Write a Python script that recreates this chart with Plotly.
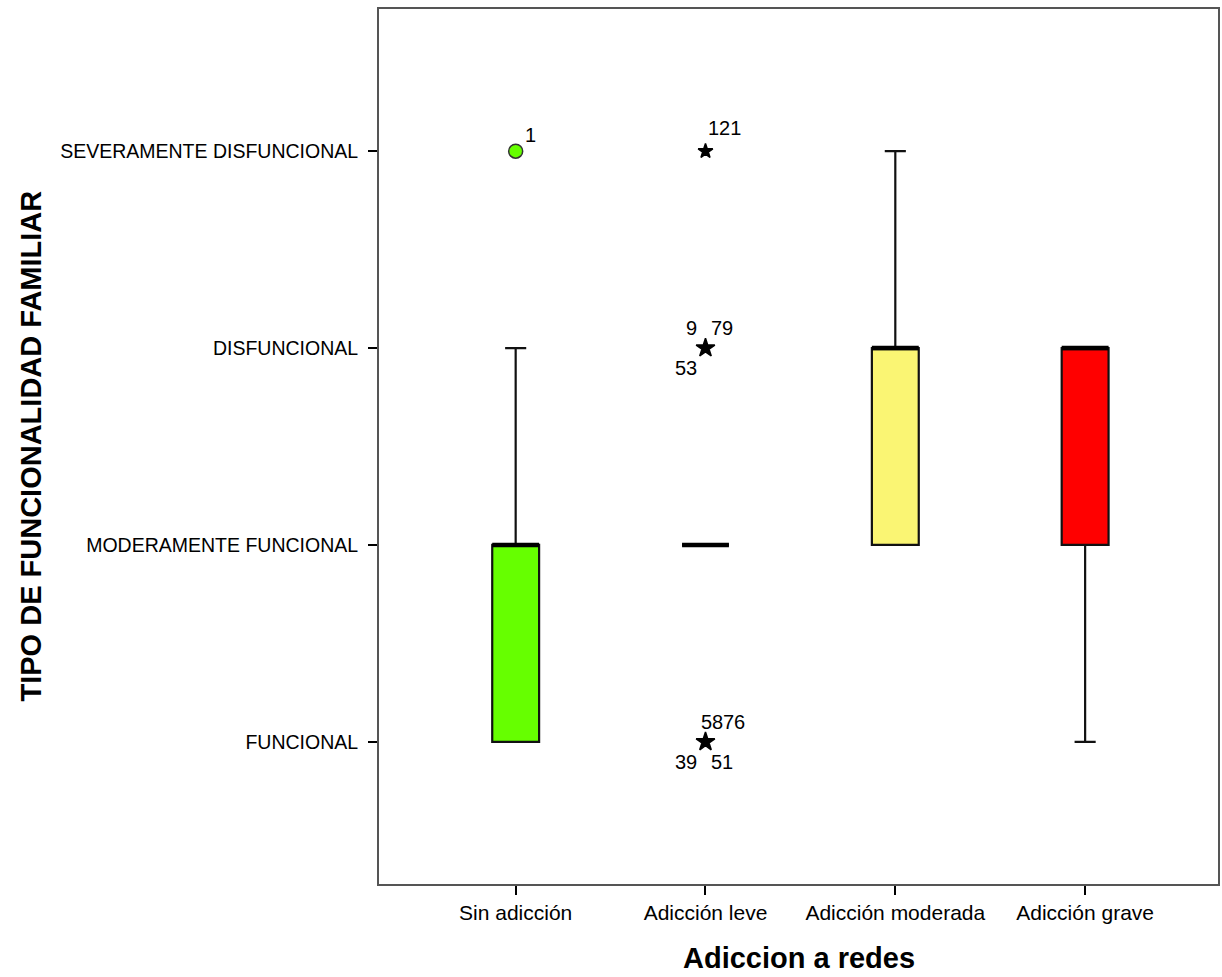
import plotly.graph_objects as go

# ---- data ----
categories = ["Sin adicción", "Adicción leve", "Adicción moderada", "Adicción grave"]
y_levels = [1, 2, 3, 4]
y_labels = ["FUNCIONAL", "MODERAMENTE FUNCIONAL", "DISFUNCIONAL", "SEVERAMENTE DISFUNCIONAL"]

q1 = [1, 2, 2, 2]
median = [2, 2, 3, 3]
q3 = [2, 2, 3, 3]
lower_whisker = [1, 2, 2, 1]
upper_whisker = [3, 2, 4, 3]
box_colors = ["#66FF00", "#FFFFFF", "#FAF573", "#FF0000"]

# outliers (circle) and extremes (star)
outlier_cat = [0]
outlier_val = [4]
outlier_ids = ["1"]

extreme_cat = [1, 1, 1]
extreme_val = [4, 3, 1]
extreme_ids = [["121"], ["9", "79", "53"], ["58", "76", "39", "51"]]

# ---- figure ----
BOX_W = 0.247
FONT = "Liberation Sans, Arial, sans-serif"

fig = go.Figure()
xs = list(range(len(categories)))
for i in xs:
    fig.add_trace(go.Box(
        x=[xs[i]], q1=[q1[i]], median=[median[i]], q3=[q3[i]],
        lowerfence=[lower_whisker[i]], upperfence=[upper_whisker[i]],
        width=BOX_W, whiskerwidth=0.45,
        fillcolor=box_colors[i], line=dict(color="#111111", width=2.2),
        boxpoints=False, showlegend=False, hoverinfo="skip",
    ))

# thick medians
mx, my = [], []
for i in xs:
    mx += [xs[i] - BOX_W / 2, xs[i] + BOX_W / 2, None]
    my += [median[i], median[i], None]
fig.add_trace(go.Scatter(x=mx, y=my, mode="lines",
                         line=dict(color="#000000", width=4.5),
                         showlegend=False, hoverinfo="skip"))

# outliers
fig.add_trace(go.Scatter(
    x=outlier_cat, y=outlier_val, mode="markers",
    marker=dict(symbol="circle", size=14, color=box_colors[0],
                line=dict(color="#333333", width=1.5)),
    showlegend=False, hoverinfo="skip"))

# extremes
star_sizes = [11, 14, 14]
fig.add_trace(go.Scatter(
    x=extreme_cat, y=extreme_val, mode="markers",
    marker=dict(symbol="star", size=star_sizes, color="#000000", opacity=1,
                line=dict(color="#000000", width=1.5)),
    showlegend=False, hoverinfo="skip"))

ann_font = dict(family=FONT, size=20, color="#000000")
# label offsets in pixels
fig.add_annotation(x=outlier_cat[0], y=outlier_val[0], text=outlier_ids[0],
                   showarrow=False, xshift=15, yshift=16, font=ann_font)
offsets = [
    [(19, 23)],
    [(-14, 20), (17, 20), (-19, -20)],
    [(7, 20), (29, 20), (-19, -20), (17, -20)],
]
for k in range(len(extreme_cat)):
    for lab, (dx, dy) in zip(extreme_ids[k], offsets[k]):
        fig.add_annotation(x=extreme_cat[k], y=extreme_val[k], text=lab,
                           showarrow=False, xshift=dx, yshift=dy, font=ann_font)

# axis titles
fig.add_annotation(x=0, y=0.5, xref="paper", yref="paper", xshift=-349,
                   text="TIPO DE FUNCIONALIDAD FAMILIAR", textangle=-90,
                   showarrow=False, xanchor="center", yanchor="middle",
                   font=dict(family=FONT, size=29, color="#000000", weight="bold"))
fig.add_annotation(x=0.5, y=0, xref="paper", yref="paper", yshift=-74,
                   text="Adiccion a redes",
                   showarrow=False, xanchor="center", yanchor="middle",
                   font=dict(family=FONT, size=29, color="#000000", weight="bold"))

fig.update_layout(
    width=1222, height=977,
    margin=dict(l=379, r=2, t=9, b=93),
    paper_bgcolor="white", plot_bgcolor="white",
    font=dict(family=FONT, size=19, color="#000000"),
    showlegend=False,
    xaxis=dict(range=[-0.72, 3.70], tickmode="array", tickvals=xs, ticktext=categories,
               showgrid=False, zeroline=False, ticks="outside", ticklen=9, tickwidth=1.5,
               tickcolor="#000000", showline=True, linecolor="#555555", linewidth=2,
               mirror=True, tickfont=dict(size=21), fixedrange=True),
    yaxis=dict(range=[0.278, 4.722], tickmode="array", tickvals=y_levels, ticktext=y_labels,
               showgrid=False, zeroline=False, ticks="outside", ticklen=9, tickwidth=1.5,
               tickcolor="#000000", showline=True, linecolor="#555555", linewidth=2,
               mirror=True, tickfont=dict(size=19.5), ticklabelstandoff=6, fixedrange=True),
)

fig.write_html(
    "out.html",
    config={"displayModeBar": False},
    post_script="document.body.style.margin='0';document.body.style.padding='0';"
                "document.documentElement.style.overflow='hidden';",
)
